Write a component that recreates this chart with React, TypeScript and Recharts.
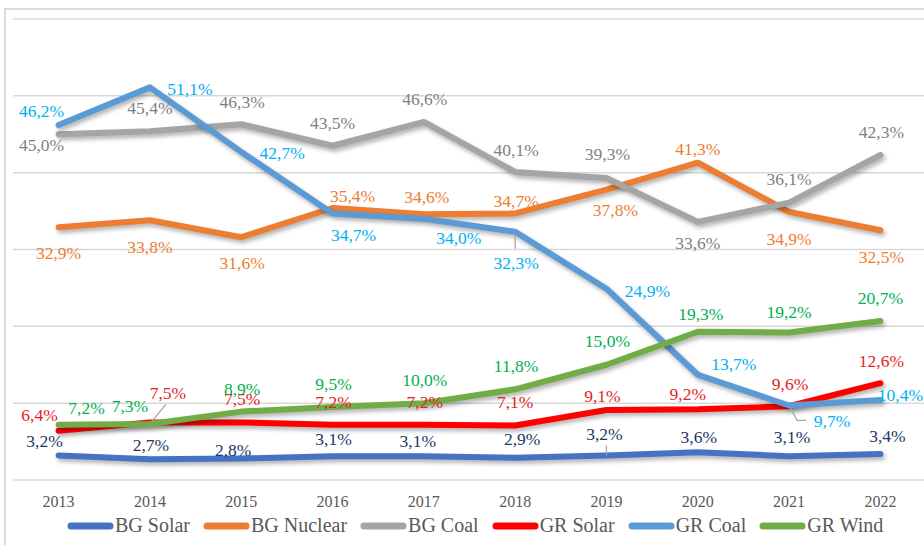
import React from "react";
import { CartesianGrid, LabelList, Line, LineChart, XAxis, YAxis } from "recharts";

const years = ["2013", "2014", "2015", "2016", "2017", "2018", "2019", "2020", "2021", "2022"];
const bgSolar = [3.2, 2.7, 2.8, 3.1, 3.1, 2.9, 3.2, 3.6, 3.1, 3.4];
const bgNuclear = [32.9, 33.8, 31.6, 35.4, 34.6, 34.7, 37.8, 41.3, 34.9, 32.5];
const bgCoal = [45.0, 45.4, 46.3, 43.5, 46.6, 40.1, 39.3, 33.6, 36.1, 42.3];
const grSolar = [6.4, 7.5, 7.5, 7.2, 7.2, 7.1, 9.1, 9.2, 9.6, 12.6];
const grCoal = [46.2, 51.1, 42.7, 34.7, 34.0, 32.3, 24.9, 13.7, 9.7, 10.4];
const grWind = [7.2, 7.3, 8.9, 9.5, 10.0, 11.8, 15.0, 19.3, 19.2, 20.7];
const yTicks = [0, 10, 20, 30, 40, 50, 60];

const data = years.map((year, i) => ({
  year,
  bgSolar: bgSolar[i],
  bgNuclear: bgNuclear[i],
  bgCoal: bgCoal[i],
  grSolar: grSolar[i],
  grCoal: grCoal[i],
  grWind: grWind[i],
}));

const FONT = '"Liberation Serif", "Times New Roman", serif';

const series = [
  { key: "bgSolar", name: "BG Solar", stroke: "#4472C4", label: "#203864" },
  { key: "bgNuclear", name: "BG Nuclear", stroke: "#ED7D31", label: "#ED7D31" },
  { key: "bgCoal", name: "BG Coal", stroke: "#A5A5A5", label: "#7F7F7F" },
  { key: "grSolar", name: "GR Solar", stroke: "#FF0000", label: "#E31E24" },
  { key: "grCoal", name: "GR Coal", stroke: "#5B9BD5", label: "#00B0F0" },
  { key: "grWind", name: "GR Wind", stroke: "#70AD47", label: "#00B050" },
];

// label centre relative to the point, per year
const labelOffsets: Record<string, [number, number][]> = {
  bgSolar: [[-14, -14], [1, -14], [-8, -8], [1, -17], [-6, -15], [7, -19], [-2, -21], [1, -15], [3, -19], [7, -18]],
  bgNuclear: [[0, 26], [0, 27], [1, 26], [20, -12], [3, -17], [1, -12], [9, 20], [0, -14], [0, 27], [1, 27]],
  bgCoal: [[-17, 11], [0, -23], [1, -22], [0, -23], [1, -23], [1, -22], [1, -24], [0, 21], [0, -24], [1, -23]],
  grSolar: [[-19, -16], [18, -29], [1, -23], [1, -23], [1, -23], [0, -23], [-4, -14], [-10, -15], [1, -22], [1, -22]],
  grCoal: [[-17, -14], [40, 2], [41, 1], [21, 22], [35, 19], [1, 31], [41, 2], [36, -11], [43, 16], [20, -5]],
  grWind: [[28, -17], [-20, -18], [1, -23], [1, -23], [1, -23], [1, -23], [1, -24], [3, -18], [0, -20], [0, -23]],
};

const leaders: Record<string, Record<number, [number, number][]>> = {
  bgSolar: { 6: [[0, -10], [0, 0]] },
  grSolar: { 1: [[2, -1], [16, -18]] },
  grCoal: { 5: [[0, 3], [0, 17]], 8: [[1, 2], [8, 15], [17, 15]] },
};

const fmt = (v: number) => v.toFixed(1).replace(".", ",") + "%";

const makeLabel = (key: string, color: string) => (props: any) => {
  const vb = props.viewBox || {};
  const x = vb.x ?? props.x;
  const y = vb.y ?? props.y;
  const index = props.index ?? 0;
  const [dx, dy] = labelOffsets[key][index];
  const leader = leaders[key]?.[index];
  return (
    <g key={`${key}-${index}`}>
      {leader && (
        <polyline
          points={leader.map(([a, b]) => `${x + a},${y + b}`).join(" ")}
          fill="none"
          stroke="#A6A6A6"
          strokeWidth={1.3}
        />
      )}
      <text
        x={x + dx}
        y={y + dy}
        fill={color}
        fontSize={17.5}
        fontFamily={FONT}
        textAnchor="middle"
        dominantBaseline="central"
      >
        {fmt(Number(props.value))}
      </text>
    </g>
  );
};

function ChartLegend() {
  return (
    <div
      style={{
        position: "absolute",
        left: 67,
        top: 514,
        display: "flex",
        alignItems: "center",
        fontFamily: FONT,
        fontSize: 20,
        color: "#595959",
        whiteSpace: "nowrap",
      }}
    >
      {series.map((s) => (
        <div key={s.key} style={{ display: "flex", alignItems: "center", marginRight: 13 }}>
          <svg width={47} height={10} style={{ marginRight: 1 }}>
            <line x1={4} y1={5} x2={43} y2={5} stroke={s.stroke} strokeWidth={7} strokeLinecap="round" />
          </svg>
          <span>{s.name}</span>
        </div>
      ))}
    </div>
  );
}

export default function App() {
  return (
    <div
      style={{
        position: "absolute",
        left: 0,
        top: 0,
        width: 924,
        height: 545,
        overflow: "hidden",
        background: "#fff",
      }}
    >
      <style>{`.recharts-line-curve { filter: drop-shadow(2px 3px 2px rgba(0,0,0,0.3)); }`}</style>
      <div
        style={{
          position: "absolute",
          left: 4,
          top: 8,
          width: 1000,
          height: 1000,
          border: "2px solid #D9D9D9",
          boxSizing: "border-box",
        }}
      />
      <div style={{ position: "absolute", left: 0, top: 0 }}>
        <LineChart width={940} height={545} data={data} margin={{ top: 19, right: 14, left: 13, bottom: 35 }}>
          <CartesianGrid vertical={false} stroke="#D9D9D9" strokeWidth={1.5} />
          <XAxis
            dataKey="year"
            axisLine={false}
            tickLine={false}
            tickMargin={10}
            height={30}
            padding={{ left: 45.6, right: 45.6 }}
            tick={{ fill: "#595959", fontSize: 16, fontFamily: FONT }}
          />
          <YAxis hide domain={[0, 60]} ticks={yTicks} />
          {series.map((s) => (
            <Line
              key={s.key}
              type="linear"
              dataKey={s.key}
              name={s.name}
              stroke={s.stroke}
              strokeWidth={6}
              strokeLinecap="round"
              strokeLinejoin="round"
              dot={false}
              activeDot={false}
              isAnimationActive={false}
            >
              <LabelList dataKey={s.key} content={makeLabel(s.key, s.label)} />
            </Line>
          ))}
        </LineChart>
      </div>
      <ChartLegend />
    </div>
  );
}
